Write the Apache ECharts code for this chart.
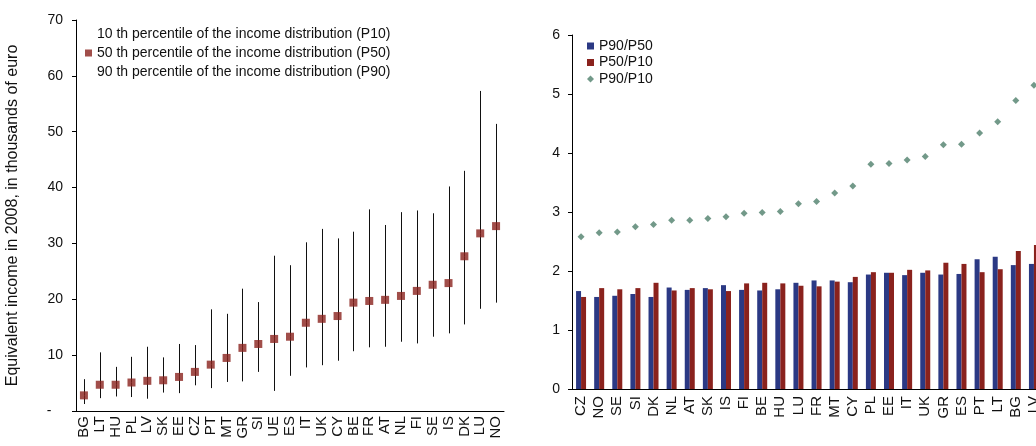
<!DOCTYPE html>
<html>
<head>
<meta charset="utf-8">
<script src="https://cdn.jsdelivr.net/npm/echarts@6/dist/echarts.min.js"></script>
<style>
  html, body { margin: 0; padding: 0; background: #fff; overflow: hidden; }
  #main { width: 1050px; height: 446px; }
</style>
</head>
<body>
<div id="main"></div>
<script>
// left panel: income percentiles, thousands of euro
const incCountries = ['BG', 'LT', 'HU', 'PL', 'LV', 'SK', 'EE', 'CZ', 'PT', 'MT', 'GR', 'SI', 'UE', 'ES', 'IT', 'UK', 'CY', 'BE', 'FR', 'AT', 'NL', 'FI', 'SE', 'IS', 'DK', 'LU', 'NO'];
const p10 = [1.25, 2.3, 2.6, 2.5, 2.2, 3.3, 3.2, 4.6, 4.1, 5.2, 5.3, 7.0, 3.6, 6.3, 7.8, 8.2, 9.0, 10.7, 11.4, 11.5, 12.4, 12.1, 13.3, 13.9, 15.5, 18.3, 19.4];
const p50 = [2.8, 4.7, 4.7, 5.1, 5.4, 5.5, 6.1, 7.0, 8.3, 9.5, 11.3, 12.0, 12.9, 13.3, 15.8, 16.5, 17.0, 19.4, 19.7, 19.9, 20.6, 21.5, 22.6, 22.9, 27.7, 31.8, 33.1];
const p90 = [5.7, 10.5, 7.9, 9.7, 11.5, 9.6, 12.0, 11.8, 18.2, 17.4, 21.9, 19.5, 27.8, 26.1, 30.2, 32.6, 30.9, 32.1, 36.1, 33.3, 35.6, 35.9, 35.4, 40.2, 43.0, 57.3, 51.4];

// right panel: ratios
const ratioCountries = ['CZ', 'NO', 'SE', 'SI', 'DK', 'NL', 'AT', 'SK', 'IS', 'FI', 'BE', 'HU', 'LU', 'FR', 'MT', 'CY', 'PL', 'EE', 'IT', 'UK', 'GR', 'ES', 'PT', 'LT', 'BG', 'LV'];
const p90p50 = [1.66, 1.56, 1.58, 1.61, 1.56, 1.72, 1.68, 1.71, 1.76, 1.68, 1.67, 1.69, 1.80, 1.84, 1.84, 1.81, 1.94, 1.97, 1.93, 1.97, 1.94, 1.95, 2.20, 2.24, 2.10, 2.12];
const p50p10 = [1.56, 1.71, 1.69, 1.71, 1.80, 1.67, 1.71, 1.69, 1.66, 1.79, 1.80, 1.79, 1.75, 1.74, 1.82, 1.90, 1.98, 1.97, 2.02, 2.01, 2.14, 2.12, 1.98, 2.03, 2.34, 2.44];
const p90p10 = [2.58, 2.65, 2.66, 2.75, 2.79, 2.86, 2.86, 2.89, 2.92, 2.98, 2.99, 3.01, 3.14, 3.18, 3.32, 3.44, 3.81, 3.82, 3.88, 3.94, 4.14, 4.15, 4.34, 4.53, 4.89, 5.15];

const nameP10 = '10 th percentile of the income distribution (P10)';
const nameP50 = '50 th percentile of the income distribution (P50)';
const nameP90 = '90 th percentile of the income distribution (P90)';

const font = 'Liberation Sans, Arial, sans-serif';
const red = '#8a221d';
const blue = '#2b3984';
const green = '#4f7f6b';

// whisker between two values of the same category
function whisker(params, api) {
  const a = api.coord([api.value(0), api.value(1)]);
  const b = api.coord([api.value(0), api.value(2)]);
  return {
    type: 'line',
    shape: { x1: Math.round(a[0]) + 0.5, y1: a[1], x2: Math.round(b[0]) + 0.5, y2: b[1] },
    style: { stroke: '#111', lineWidth: 1 },
  };
}

const axisBase = {
  axisLine: { lineStyle: { color: '#000', width: 1 } },
  axisTick: { length: 4, lineStyle: { color: '#000' } },
  axisLabel: { color: '#111', fontSize: 14, fontFamily: font },
  splitLine: { show: false },
};

const option = {
  animation: false,
  textStyle: { fontFamily: font },
  legend: [
    {
      left: 80,
      top: 21,
      orient: 'vertical',
      itemWidth: 7,
      itemHeight: 7,
      itemGap: 3,
      textStyle: { fontSize: 14, color: '#111', lineHeight: 16, fontFamily: font },
      data: [
        { name: nameP10, icon: 'rect', itemStyle: { opacity: 0 } },
        { name: nameP50, icon: 'rect' },
        { name: nameP90, icon: 'rect', itemStyle: { opacity: 0 } },
      ],
    },
    {
      left: 582,
      top: 33,
      orient: 'vertical',
      itemWidth: 7,
      itemHeight: 7,
      itemGap: 0.5,
      textStyle: { fontSize: 14, color: '#111', lineHeight: 16, fontFamily: font },
      data: [
        { name: 'P90/P50', icon: 'rect' },
        { name: 'P50/P10', icon: 'rect' },
        { name: 'P90/P10', icon: 'diamond' },
      ],
    },
  ],
  grid: [
    { left: 76, top: 20, width: 428, height: 391 },
    { left: 572, top: 35, width: 471, height: 354 },
  ],
  xAxis: [
    {
      ...axisBase,
      gridIndex: 0,
      type: 'category',
      data: incCountries,
      axisLabel: { ...axisBase.axisLabel, fontSize: 15, rotate: 90, interval: 0, margin: 5 },
      axisTick: { ...axisBase.axisTick, interval: 0 },
    },
    {
      ...axisBase,
      gridIndex: 1,
      type: 'category',
      data: ratioCountries,
      axisLabel: { ...axisBase.axisLabel, fontSize: 15, rotate: 90, interval: 0, margin: 7 },
      axisTick: { ...axisBase.axisTick, interval: 0 },
    },
  ],
  yAxis: [
    {
      ...axisBase,
      gridIndex: 0,
      type: 'value',
      min: 0,
      max: 70,
      interval: 10,
      axisLine: { show: true, lineStyle: { color: '#000' } },
      axisTick: { show: true, length: 4, lineStyle: { color: '#000' } },
      axisLabel: {
        ...axisBase.axisLabel,
        margin: 13,
        formatter: (v) => (v === 0 ? '-   ' : v),
      },
      name: 'Equivalent income in 2008, in thousands of euro',
      nameLocation: 'middle',
      nameGap: 55,
      nameTextStyle: { fontSize: 16, color: '#111', fontFamily: font },
    },
    {
      ...axisBase,
      gridIndex: 1,
      type: 'value',
      min: 0,
      max: 6,
      interval: 1,
      axisLine: { show: true, lineStyle: { color: '#000' } },
      axisTick: { show: true, length: 4, lineStyle: { color: '#000' } },
      axisLabel: { ...axisBase.axisLabel, margin: 12 },
    },
  ],
  series: [
    {
      name: nameP10,
      type: 'custom',
      xAxisIndex: 0,
      yAxisIndex: 0,
      renderItem: whisker,
      itemStyle: { color: '#111' },
      encode: { x: 0, y: [1, 2] },
      data: incCountries.map((c, i) => [i, p10[i], p50[i]]),
      z: 2,
    },
    {
      name: nameP90,
      type: 'custom',
      xAxisIndex: 0,
      yAxisIndex: 0,
      renderItem: whisker,
      itemStyle: { color: '#111' },
      encode: { x: 0, y: [1, 2] },
      data: incCountries.map((c, i) => [i, p50[i], p90[i]]),
      z: 2,
    },
    {
      name: nameP50,
      type: 'scatter',
      xAxisIndex: 0,
      yAxisIndex: 0,
      symbol: 'rect',
      symbolSize: 8,
      itemStyle: { color: red },
      data: p50,
      z: 5,
    },
    {
      name: 'P90/P50',
      type: 'bar',
      xAxisIndex: 1,
      yAxisIndex: 1,
      barWidth: 5,
      barGap: '0%',
      itemStyle: { color: blue },
      data: p90p50,
    },
    {
      name: 'P50/P10',
      type: 'bar',
      xAxisIndex: 1,
      yAxisIndex: 1,
      barWidth: 5,
      barGap: '0%',
      itemStyle: { color: red },
      data: p50p10,
    },
    {
      name: 'P90/P10',
      type: 'scatter',
      xAxisIndex: 1,
      yAxisIndex: 1,
      symbol: 'diamond',
      symbolSize: 7,
      itemStyle: { color: green },
      data: p90p10,
    },
  ],
};

const myChart = echarts.init(document.getElementById('main'), null, { renderer: 'canvas' });
myChart.setOption(option);
</script>
</body>
</html>
